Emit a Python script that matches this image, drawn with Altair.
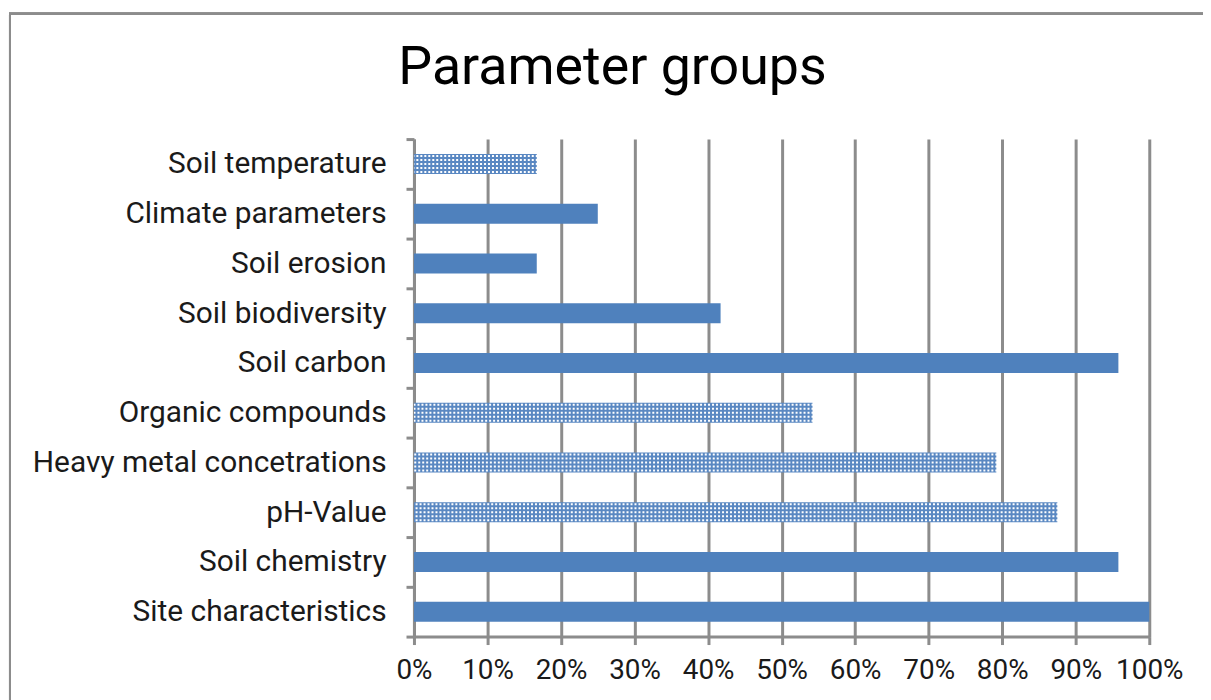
import altair as alt
import pandas as pd

categories = ["Soil temperature", "Climate parameters", "Soil erosion", "Soil biodiversity",
              "Soil carbon", "Organic compounds", "Heavy metal concetrations", "pH-Value",
              "Soil chemistry", "Site characteristics"]
values = [0.167, 0.25, 0.167, 0.417, 0.958, 0.542, 0.792, 0.875, 0.958, 1.0]
patterned = [True, False, False, False, False, True, True, True, False, False]
x_ticks = [0, 0.1, 0.2, 0.3, 0.4, 0.5, 0.6, 0.7, 0.8, 0.9, 1.0]

df = pd.DataFrame({"cat": categories, "val": values, "pat": patterned})
solid_df = df[~df["pat"]]
pat_df = df[df["pat"]]

BLUE = "#4f81bd"
GRAY = "#8c8c8c"
FONT = "Roboto"

y_enc = alt.Y("cat:N", sort=categories, title=None,
              scale=alt.Scale(paddingInner=0, paddingOuter=0),
              axis=alt.Axis(labelFontSize=30, labelFont=FONT, labelColor="#1a1a1a",
                            labelPadding=20, labelLimit=600, tickBand="extent", tickSize=8,
                            tickWidth=3, tickColor=GRAY, domainColor=GRAY,
                            domainWidth=3, grid=False))
x_enc = alt.X("val:Q", title=None,
              scale=alt.Scale(domain=[0, 1], nice=False),
              axis=alt.Axis(values=x_ticks, format=".0%", labelFontSize=28,
                            labelFont=FONT, labelColor="#1a1a1a", labelPadding=12,
                            tickSize=8, tickWidth=3, tickColor=GRAY,
                            domainColor=GRAY, domainWidth=3, grid=True,
                            gridColor=GRAY, gridWidth=3, gridOpacity=1,
                            labelFlush=False))

solid = alt.Chart(solid_df).mark_bar(size=20, color=BLUE).encode(y=y_enc, x=x_enc)

pat_bg = alt.Chart(pat_df).mark_bar(size=20, color="#5a88c2").encode(y=y_enc, x=x_enc)
pat_layers = []
for off in [-8, -4, 0, 4, 8]:
    pat_layers.append(
        alt.Chart(pat_df).mark_rule(color="#ffffff", strokeWidth=2, strokeDash=[2, 2],
                                    yOffset=off, xOffset=1)
        .encode(y=alt.Y("cat:N", sort=categories), x=alt.X("val:Q"), x2=alt.value(0))
    )

frame = alt.Chart(df).mark_rect(fill=None, stroke=GRAY, strokeWidth=2).encode(
    x=alt.value(-406), x2=alt.value(830), y=alt.value(-126), y2=alt.value(600))

chart = alt.layer(frame, solid, pat_bg, *pat_layers).properties(
    width=739, height=500,
    title=alt.TitleParams("Parameter groups", fontSize=54, font=FONT,
                          fontWeight="normal", color="#000000", anchor="middle",
                          frame="group", dx=-170, offset=-126, baseline="alphabetic"),
    autosize=alt.AutoSizeParams(type="none"),
    padding={"left": 408, "top": 130, "right": 54, "bottom": 62},
).configure_view(stroke=None)

chart.save("out.html", embed_options={"renderer": "svg", "actions": False})
